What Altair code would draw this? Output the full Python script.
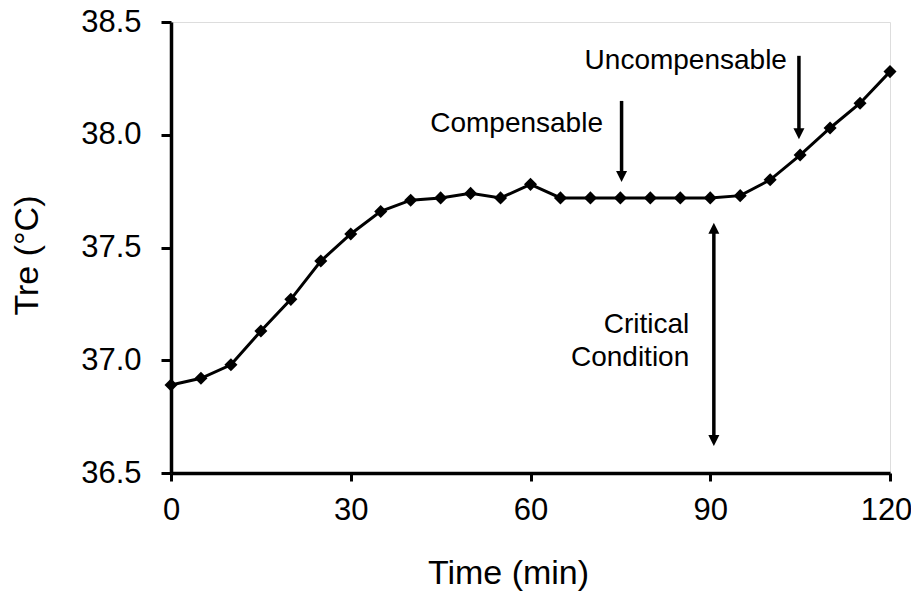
import altair as alt
import pandas as pd

# ---- data ----
time_min = [0, 5, 10, 15, 20, 25, 30, 35, 40, 45, 50, 55, 60,
            65, 70, 75, 80, 85, 90, 95, 100, 105, 110, 115, 120]
tre_c = [36.89, 36.92, 36.98, 37.13, 37.27, 37.44, 37.56, 37.66, 37.71, 37.72,
         37.74, 37.72, 37.78, 37.72, 37.72, 37.72, 37.72, 37.72, 37.72, 37.73,
         37.80, 37.91, 38.03, 38.14, 38.28]

x_ticks = [0, 30, 60, 90, 120]
y_ticks = [36.5, 37.0, 37.5, 38.0, 38.5]

# annotation arrows (shafts) in data units
shaft_x = [75.2, 104.8, 90.6]
shaft_y1 = [38.15, 38.35, 37.58]
shaft_y2 = [37.82, 38.01, 36.65]

# arrow heads (tip positions)
head_x = [75.2, 104.8, 90.6, 90.6]
head_y = [37.79, 37.98, 37.61, 36.62]
head_dir = ["down", "down", "up", "down"]

# annotation labels (right-aligned, alphabetic baseline)
label_text = ["Compensable", "Uncompensable", "Critical", "Condition"]
label_x = [72.1, 102.8, 86.5, 86.5]
label_y = [38.01, 38.29, 37.12, 36.975]

FONT = "Liberation Sans"

series = pd.DataFrame({"time": time_min, "tre": tre_c})
shafts = pd.DataFrame({"x": shaft_x, "y1": shaft_y1, "y2": shaft_y2})
heads = pd.DataFrame({"x": head_x, "y": head_y, "dir": head_dir})
labels = pd.DataFrame({"text": label_text, "x": label_x, "y": label_y})

xscale = alt.Scale(domain=[0, 120], nice=False, zero=False)
yscale = alt.Scale(domain=[36.5, 38.5], nice=False, zero=False)

x_axis = alt.Axis(values=x_ticks, title="Time (min)", grid=False, labelFlush=False,
                  labelOffset={"condition": {"test": "datum.value == 120", "value": -4}, "value": 0},
                  labelFontSize=31, titleFontSize=34, labelFont=FONT, titleFont=FONT,
                  labelColor="black", titleColor="black", titleFontWeight="normal",
                  domainColor="black", domainWidth=3.5, tickColor="black",
                  tickWidth=3, tickSize=8, labelPadding=14,
                  titleX=337, titleY=110, titleAnchor="start", titleAlign="center",
                  titleBaseline="alphabetic")
y_axis = alt.Axis(values=y_ticks, format=".1f", title="Tre (°C)", grid=False,
                  labelFontSize=31, titleFontSize=34, labelFont=FONT, titleFont=FONT,
                  labelColor="black", titleColor="black", titleFontWeight="normal",
                  domainColor="black", domainWidth=3.5, tickColor="black",
                  tickWidth=3, tickSize=10, labelPadding=20,
                  titleX=-134, titleY=233, titleAngle=-90, titleAlign="center",
                  titleBaseline="alphabetic")

base = alt.Chart(series).encode(
    x=alt.X("time:Q", scale=xscale, axis=x_axis),
    y=alt.Y("tre:Q", scale=yscale, axis=y_axis),
)
line = base.mark_line(color="black", strokeWidth=3)
pts = base.mark_point(shape="diamond", filled=True, color="black", size=170, opacity=1)

shaft_layer = alt.Chart(shafts).mark_rule(color="black", strokeWidth=3.5).encode(
    x=alt.X("x:Q", scale=xscale),
    y=alt.Y("y1:Q", scale=yscale),
    y2="y2:Q",
)

head_layer = alt.Chart(heads).mark_point(filled=True, color="black", opacity=1, size=484).encode(
    x=alt.X("x:Q", scale=xscale),
    y=alt.Y("y:Q", scale=yscale),
    shape=alt.Shape("dir:N", legend=None,
                    scale=alt.Scale(domain=["down", "up"],
                                    range=["M-0.5,-1L0.5,-1L0,0Z", "M-0.5,1L0.5,1L0,0Z"])),
)

text_layer = alt.Chart(labels).mark_text(
    align="right", baseline="alphabetic", fontSize=28, font=FONT, color="black"
).encode(
    x=alt.X("x:Q", scale=xscale),
    y=alt.Y("y:Q", scale=yscale),
    text="text:N",
)

chart = alt.layer(line, pts, shaft_layer, head_layer, text_layer).properties(
    width=719, height=451,
    autosize=alt.AutoSizeParams(type="none"),
    padding={"left": 163, "top": 14, "right": 21, "bottom": 118},
).configure_view(stroke="black", strokeWidth=2).configure(background="white")

chart.save("out.html", embed_options={"renderer": "svg", "actions": False})
